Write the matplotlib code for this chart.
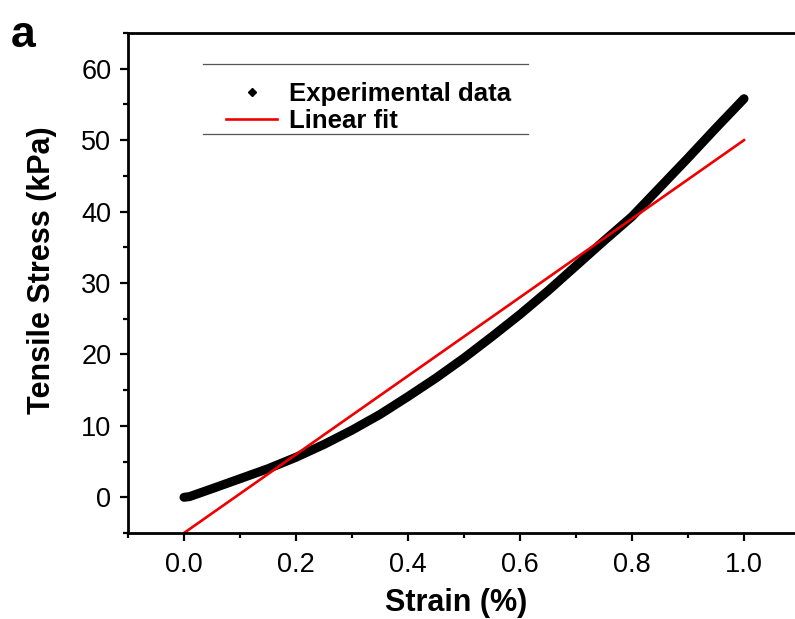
import matplotlib
matplotlib.use("Agg")
import matplotlib.pyplot as plt
from matplotlib.lines import Line2D

# experimental stress-strain curve
strain = [0.0, 0.01, 0.05, 0.10, 0.15, 0.20, 0.25, 0.30, 0.35, 0.40, 0.45, 0.50,
          0.55, 0.60, 0.65, 0.70, 0.75, 0.80, 0.85, 0.90, 0.95, 1.00]
stress = [0.0, 0.1, 1.2, 2.6, 4.0, 5.6, 7.4, 9.4, 11.6, 14.1, 16.7, 19.5,
          22.5, 25.6, 28.9, 32.4, 35.9, 39.3, 43.4, 47.5, 51.7, 55.8]

# linear fit endpoints
fit_x = [0.0, 1.0]
fit_y = [-5.0, 50.0]

plt.rcParams['font.family'] = ['Liberation Sans', 'DejaVu Sans']

W, H = 795, 619
fig = plt.figure(figsize=(W / 100, H / 100), dpi=100)
# right spine falls just outside the cropped picture
ax = fig.add_axes([128 / W, 1 - 533 / H, 672 / W, 500 / H])

ax.plot(strain, stress, color='black', lw=6.5, solid_capstyle='round', solid_joinstyle='round')
ax.plot(fit_x, fit_y, color='#ee0000', lw=1.9)

ax.set_xlim(-0.1, 1.1)
ax.set_ylim(-5, 65)
ax.set_xticks([0.0, 0.2, 0.4, 0.6, 0.8, 1.0])
ax.set_xticks([-0.1, 0.1, 0.3, 0.5, 0.7, 0.9], minor=True)
ax.set_yticks([0, 10, 20, 30, 40, 50, 60])
ax.set_yticks([-5, 5, 15, 25, 35, 45, 55, 65], minor=True)
ax.set_xticklabels(['0.0', '0.2', '0.4', '0.6', '0.8', '1.0'])

for s in ax.spines.values():
    s.set_linewidth(2.0)
ax.tick_params(which='major', direction='out', length=6, width=1.6, labelsize=19.5)
ax.tick_params(axis='x', which='major', pad=8)
ax.tick_params(axis='y', which='major', pad=6)
ax.tick_params(which='minor', direction='out', length=3.5, width=1.6)

ax.set_xlabel('Strain (%)', fontsize=22, fontweight='bold')
ax.set_ylabel('Tensile Stress (kPa)', fontsize=22, fontweight='bold')
ax.xaxis.set_label_coords((456 - 128) / 672, -(588 - 533) / 500)
ax.yaxis.set_label_coords(-(128 - 57) / 672, (533 - 270) / 500)

# legend (Origin style: rules above and below, no side frame)
handles = [Line2D([], [], color='black', marker='D', markersize=4.5, lw=0),
           Line2D([], [], color='#ee0000', lw=1.9)]
leg = ax.legend(handles, ['Experimental data', 'Linear fit'], frameon=False,
                loc='upper left', bbox_to_anchor=(213 / W, 1 - 69 / H),
                bbox_transform=fig.transFigure, prop={'weight': 'bold', 'size': 18.5},
                handlelength=2.0, handletextpad=0.45, labelspacing=0.12, borderpad=0)
for yy in (64, 134):
    fig.add_artist(Line2D([203 / W, 528 / W], [1 - yy / H, 1 - yy / H],
                          color='#555555', lw=0.9, transform=fig.transFigure))

fig.text(11 / W, 1 - 47 / H, 'a', fontsize=32, fontweight='bold')

fig.savefig('out.png', dpi=100)
